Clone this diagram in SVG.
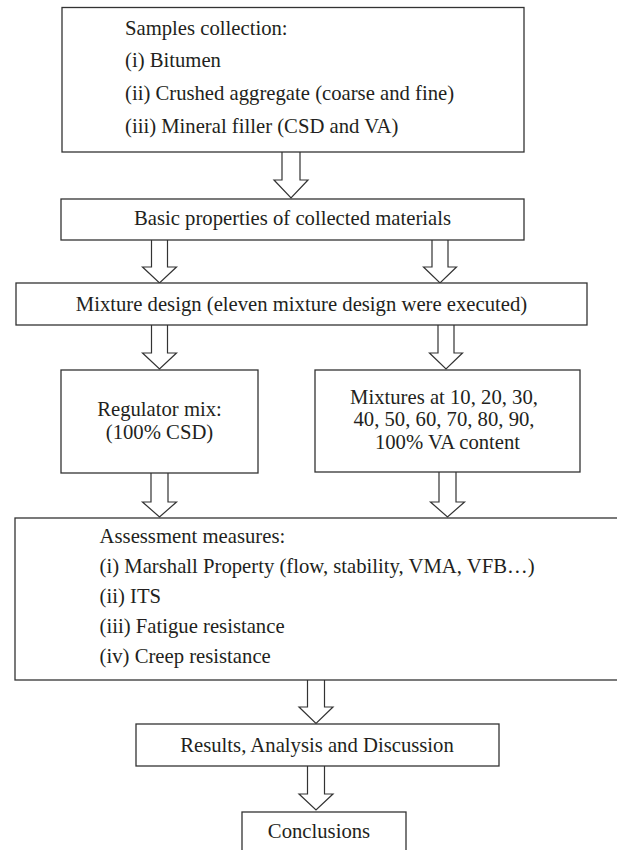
<svg xmlns="http://www.w3.org/2000/svg" width="617" height="850" viewBox="0 0 617 850">
<style>
.box{fill:#ffffff;stroke:#333333;stroke-width:1.3}
.arr{fill:#ffffff;stroke:#333333;stroke-width:1.2;stroke-linejoin:miter}
text{font-family:"Liberation Serif","Times New Roman",serif;font-size:20.7px;fill:#231f20}
.c{text-anchor:middle}
</style>
<rect x="0" y="0" width="617" height="850" fill="#ffffff"/>
<g id="connectors">
<path class="arr" d="M282,152 L282,180 L274,180 L291,198 L308,180 L300,180 L300,152"/>
<path class="arr" d="M151.5,240 L151.5,267 L142.5,267 L159.5,283 L176.5,267 L167.5,267 L167.5,240"/>
<path class="arr" d="M432,240 L432,267 L423.5,267 L440,283 L456.5,267 L448,267 L448,240"/>
<path class="arr" d="M151.5,325 L151.5,353 L142.5,353 L159.5,369 L176.5,353 L167.5,353 L167.5,325"/>
<path class="arr" d="M438,325 L438,353 L429.5,353 L446,369 L462.5,353 L454,353 L454,325"/>
<path class="arr" d="M151,473 L151,502 L142.5,502 L159.5,517 L176.5,502 L168,502 L168,473"/>
<path class="arr" d="M439,472 L439,502 L430.5,502 L447.5,517 L464.5,502 L456,502 L456,472"/>
<path class="arr" d="M307.5,680 L307.5,707 L299,707 L316,723.5 L333,707 L324.5,707 L324.5,680"/>
<path class="arr" d="M307.5,766 L307.5,794 L299,794 L316,810 L333,794 L324.5,794 L324.5,766"/>
</g>
<g id="samples">
<rect class="box" x="62" y="7.5" width="462" height="144.5"/>
<text x="125" y="35">Samples collection:</text>
<text x="125" y="67">(i) Bitumen</text>
<text x="125" y="100">(ii) Crushed aggregate (coarse and fine)</text>
<text x="125" y="133">(iii) Mineral filler (CSD and VA)</text>
</g>
<g id="basic">
<rect class="box" x="61" y="199" width="463" height="41"/>
<text class="c" x="292.5" y="225">Basic properties of collected materials</text>
</g>
<g id="mixture-design">
<rect class="box" x="16" y="283" width="571" height="42"/>
<text class="c" x="301.5" y="311">Mixture design (eleven mixture design were executed)</text>
</g>
<g id="regulator">
<rect class="box" x="61" y="370" width="197" height="103"/>
<text class="c" x="159.5" y="416">Regulator mix:</text>
<text class="c" x="159.5" y="439">(100% CSD)</text>
</g>
<g id="mixtures">
<rect class="box" x="315" y="370" width="265" height="102"/>
<text class="c" x="444" y="404">Mixtures at 10, 20, 30,</text>
<text class="c" x="444" y="426">40, 50, 60, 70, 80, 90,</text>
<text class="c" x="447.5" y="449">100% VA content</text>
</g>
<g id="assessment">
<rect class="box" x="15" y="518" width="610" height="162"/>
<text x="99.6" y="543">Assessment measures:</text>
<text x="99.6" y="573">(i) Marshall Property (flow, stability, VMA, VFB…)</text>
<text x="99.6" y="603">(ii) ITS</text>
<text x="99.6" y="633">(iii) Fatigue resistance</text>
<text x="99.6" y="663">(iv) Creep resistance</text>
</g>
<g id="results">
<rect class="box" x="136" y="724" width="363" height="42"/>
<text class="c" x="317" y="752">Results, Analysis and Discussion</text>
</g>
<g id="conclusions">
<rect class="box" x="242" y="812" width="164" height="45"/>
<text class="c" x="319" y="838">Conclusions</text>
</g>
</svg>
